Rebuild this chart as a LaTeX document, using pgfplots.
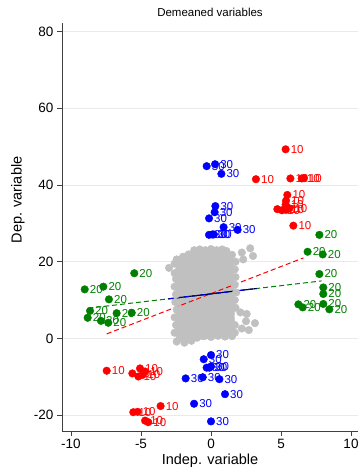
\documentclass[border=0pt]{standalone}
\usepackage{fontspec}
\setmainfont{Liberation Sans}
\usepackage{pgfplots}
\pgfplotsset{compat=1.18}
\definecolor{cgray}{RGB}{192,192,192}
\definecolor{cgreen}{RGB}{0,128,0}
\definecolor{cgrid}{RGB}{234,234,234}
\definecolor{cred}{RGB}{255,0,0}
\definecolor{cblue}{RGB}{0,0,255}
\begin{document}
\begin{tikzpicture}
\useasboundingbox (0,0) rectangle (360pt,470pt);
\begin{axis}[
  at={(62pt,39pt)}, anchor=south west,
  scale only axis, width=296pt, height=408pt,
  xmin=-10.643, xmax=10.5, ymin=-24.1, ymax=82.2,
  axis x line*=bottom, axis y line*=left,
  axis line style={-, line width=0.8pt, black!75},
  xtick={-10,-5,0,5,10}, xticklabels={-10,-5,0,5,10},
  ytick={-20,0,20,40,60,80}, yticklabels={-20,0,20,40,60,80},
  ymajorgrids, grid style={cgrid, line width=0.8pt},
  tick style={black!75, line width=0.8pt},
  tick align=outside, major tick length=5pt,
  ticklabel style={font=\fontsize{13.5}{13.5}\selectfont},
  clip=false,
]
% gray cloud core
\addplot[fill=cgray, draw=cgray, forget plot] coordinates {
(-2.5,-0.5) (-2.55,18) (-2.3,20.5) (-1.5,22) (-1.1,23) (1.1,23) (1.6,21.8)
(1.7,1.0) (1.0,0.5) (-1.4,-0.5) (-1.9,-1.0)} -- cycle;
\addplot[only marks, mark=*, mark size=3.8pt, mark options={fill=cgray, draw=cgray}, forget plot] coordinates {
(-2.45,-0.8) (-2.6,1.5) (-2.5,3.5) (-2.6,5.5) (-2.45,7.5) (-2.55,9.5) (-2.5,11.5)
(-2.6,13.5) (-2.5,15.5) (-2.6,17.0) (-3.0,18.4) (-2.6,19.5) (-2.45,20.6) (-2.0,21.3)
(-1.6,21.9) (-1.2,23.0) (-0.8,23.2) (-0.4,23.0) (0.0,23.3) (0.4,23.0) (0.8,23.2)
(1.1,22.8) (1.5,21.8) (2.2,22.4) (2.8,23.5) (3.0,21.5) (2.3,20.6) (1.75,20.0)
(1.7,18.0) (1.75,16.0) (1.7,14.0) (1.8,12.0) (1.7,10.0) (1.75,8.0) (2.1,6.8)
(2.55,6.4) (2.5,4.5) (3.14,4.0) (2.7,2.2) (2.2,2.6) (1.7,3.5) (1.7,1.5) (1.5,0.6)
(1.0,0.5) (0.5,0.7) (0.0,0.4) (-0.5,0.6) (-1.0,0.2) (-1.4,-0.6) (-1.9,-1.1)};
% red group
\addplot[only marks, mark=*, mark size=3.8pt, mark options={fill=cred, draw=cred},
  nodes near coords={10},
  every node near coord/.append style={anchor=west, xshift=4pt, inner sep=1pt, text=cred, font=\fontsize{11.5}{11.5}\selectfont}]
coordinates {
(5.33,49.3) (3.21,41.5) (5.67,41.7) (6.48,41.7) (6.62,41.8) (5.45,37.4) (5.36,35.9)
(5.33,34.9) (4.74,33.7) (5.07,33.4) (5.36,33.5) (5.60,33.9) (5.88,29.4)
(-7.45,-8.4) (-5.62,-9.1) (-5.07,-7.8) (-5.19,-9.9) (-4.71,-8.6) (-4.90,-9.5)
(-3.60,-17.6) (-5.55,-19.2) (-5.24,-19.1) (-4.71,-21.4) (-4.48,-21.8)};
% green group
\addplot[only marks, mark=*, mark size=3.8pt, mark options={fill=cgreen, draw=cgreen},
  nodes near coords={20},
  every node near coord/.append style={anchor=west, xshift=4pt, inner sep=1pt, text=cgreen, font=\fontsize{11.5}{11.5}\selectfont}]
coordinates {
(-5.48,17.0) (-9.02,12.8) (-7.69,13.5) (-7.29,10.2) (-8.64,7.2) (-8.81,5.4)
(-7.86,4.6) (-7.34,4.1) (-6.74,6.6) (-5.66,6.7)
(7.74,27.0) (6.90,22.6) (7.98,21.9) (7.74,16.8) (8.02,13.3) (8.02,11.6)
(6.24,8.9) (6.55,8.1) (8.02,9.0) (8.45,7.6)};
% blue group
\addplot[only marks, mark=*, mark size=3.8pt, mark options={fill=cblue, draw=cblue},
  nodes near coords={30},
  every node near coord/.append style={anchor=west, xshift=4pt, inner sep=1pt, text=cblue, font=\fontsize{11.5}{11.5}\selectfont}]
coordinates {
(-0.31,44.9) (0.29,45.4) (0.74,42.9) (0.31,34.5) (0.26,32.9) (-0.14,31.3)
(0.90,29.0) (1.90,28.3) (-0.14,27.0) (0.09,27.1) (0.20,27.1)
(0.00,-4.3) (-0.52,-5.4) (-0.31,-7.6) (0.00,-7.3) (-0.12,-7.6) (-1.81,-10.4)
(-0.59,-10.1) (0.60,-10.6) (1.00,-14.5) (-1.21,-17.0) (0.00,-21.6)};
% fitted lines
\addplot[cgreen, line width=1pt, dash pattern=on 5pt off 3pt] coordinates {(-8.76,7.9) (7.9,15.0)};
\addplot[cred, line width=1pt, dash pattern=on 5pt off 3pt] coordinates {(-7.45,1.2) (6.6,21.0)};
\addplot[black, line width=1.1pt] coordinates {(-3.05,10.33) (3.26,13.02)};
\addplot[cblue, line width=1pt, dash pattern=on 5pt off 3pt] coordinates {(-3.05,10.33) (3.26,13.02)};
\end{axis}
\node[font=\fontsize{11.5}{11.5}\selectfont] at (210pt,458pt) {Demeaned variables};
\node[font=\fontsize{14.5}{14.5}\selectfont] at (210pt,9pt) {Indep. variable};
\node[font=\fontsize{14.5}{14.5}\selectfont, rotate=90] at (18pt,270pt) {Dep. variable};
\end{tikzpicture}
\end{document}
